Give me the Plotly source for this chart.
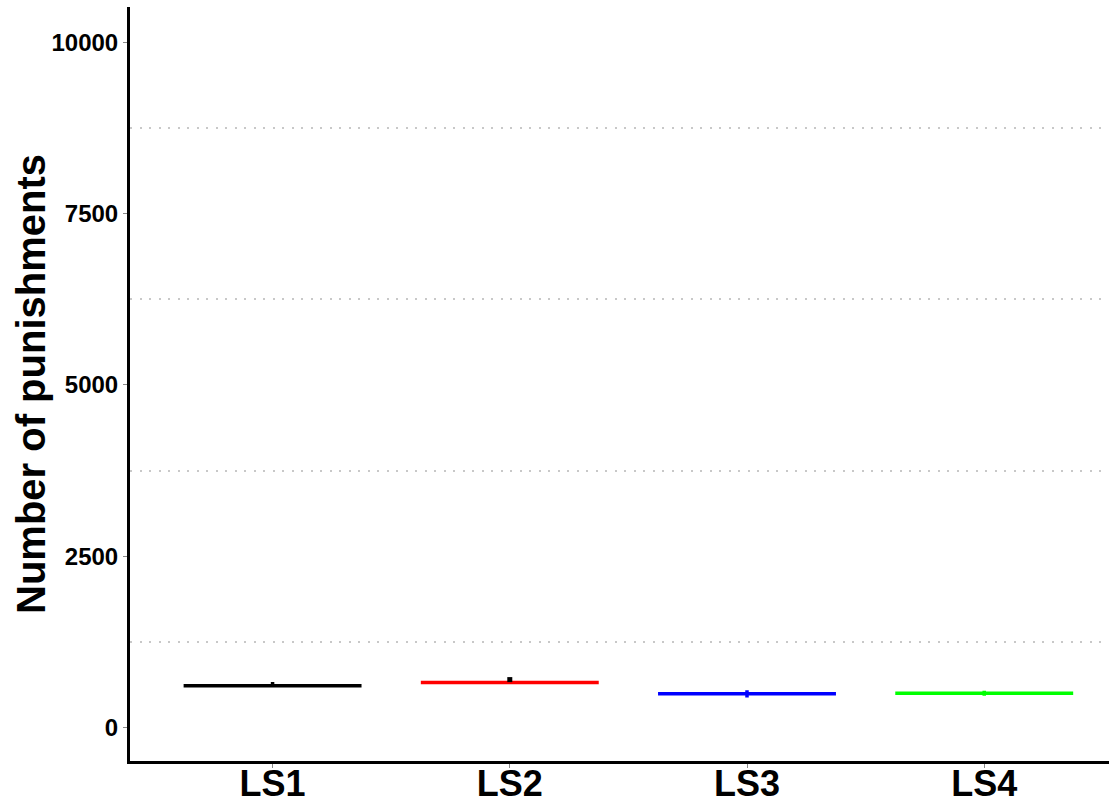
import plotly.graph_objects as go

categories = ["LS1", "LS2", "LS3", "LS4"]
colors = ["#000000", "#ff0000", "#0000ff", "#00ff00"]
q1 = [610, 654, 493, 499]
median = [610, 654, 493, 499]
q3 = [610, 654, 493, 499]
lower_fence = [608, 652, 435, 464]
upper_fence = [664, 656, 543, 537]
outlier_cat = [1]
outlier_val = [698]
y_ticks = [0, 2500, 5000, 7500, 10000]
minor_grid = [1250, 3750, 6250, 8750]
y_title = "Number of punishments"

FONT = "Liberation Sans, Arial, Helvetica, sans-serif"

fig = go.Figure()
for i, cat in enumerate(categories):
    fig.add_trace(go.Box(
        x=[i], q1=[q1[i]], median=[median[i]], q3=[q3[i]],
        lowerfence=[lower_fence[i]], upperfence=[upper_fence[i]],
        width=0.75, whiskerwidth=0,
        line=dict(color=colors[i], width=3.5),
        fillcolor="rgba(255,255,255,0)",
        boxpoints=False, showlegend=False, name=cat,
        hoverinfo="skip",
    ))

fig.add_trace(go.Scatter(
    x=outlier_cat, y=outlier_val, mode="markers",
    marker=dict(symbol="square", size=5, color="black"),
    showlegend=False, hoverinfo="skip",
))

fig.update_layout(
    width=1109, height=804,
    margin=dict(l=130, r=0, t=7, b=43),
    plot_bgcolor="white", paper_bgcolor="white",
    font=dict(family=FONT, color="black"),
)
fig.add_annotation(
    text=y_title, textangle=-90, showarrow=False,
    xref="paper", yref="paper", x=-(130 - 31) / 979, y=0.5,
    xanchor="center", yanchor="middle",
    font=dict(family=FONT, size=40, weight="bold", color="black"),
)
fig.update_xaxes(
    range=[-0.601, 3.526], automargin=False,
    tickmode="array", tickvals=list(range(len(categories))), ticktext=categories,
    tickfont=dict(family=FONT, size=36, weight="bold", color="black"),
    ticklabelstandoff=-15,
    showline=True, linecolor="black", linewidth=3,
    ticks="outside", ticklen=4, tickcolor="#888888", tickwidth=1,
    showgrid=False, zeroline=False,
)
fig.update_yaxes(
    range=[-490, 10515], automargin=False,
    tickmode="array", tickvals=y_ticks, ticktext=[str(v) for v in y_ticks],
    tickfont=dict(family=FONT, size=24, weight="bold", color="black"),
    showline=True, linecolor="black", linewidth=3,
    ticks="outside", ticklen=4, tickcolor="#888888", tickwidth=1,
    showgrid=False, zeroline=False,
    minor=dict(tickmode="array", tickvals=minor_grid, showgrid=True,
               gridcolor="#c8c8c8", gridwidth=2, griddash="2px,7.5px", ticks=""),
)

fig.write_html("out.html", config={"displayModeBar": False},
               post_script="document.body.style.margin='0';")
